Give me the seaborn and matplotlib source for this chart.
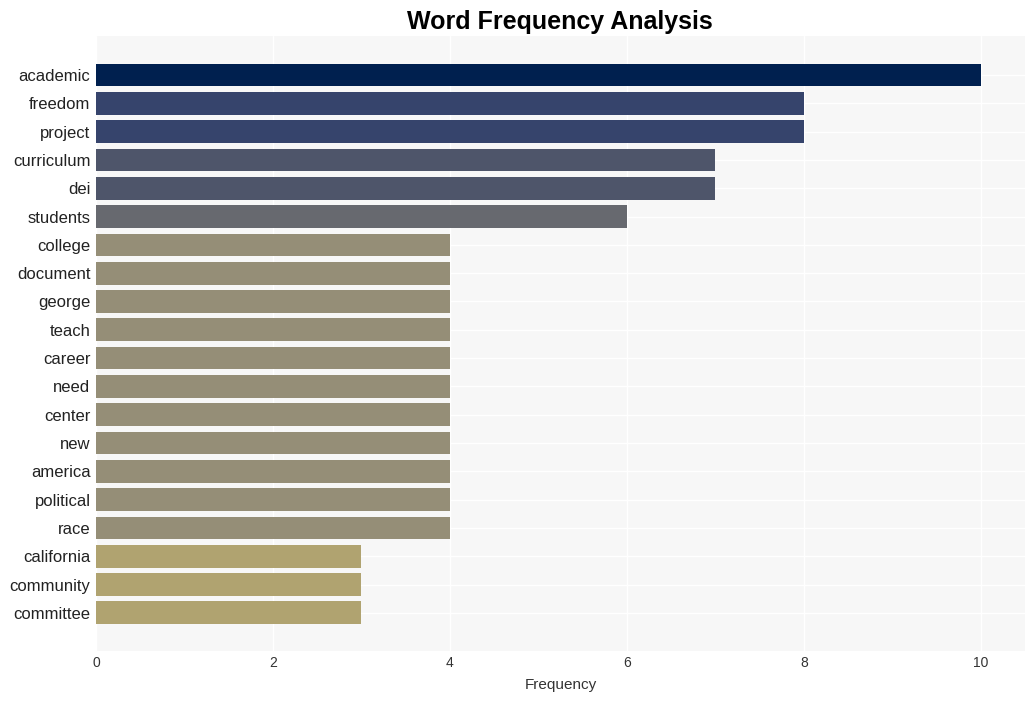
import pandas as pd
import matplotlib
matplotlib.use("Agg")
import matplotlib.pyplot as plt
import seaborn as sns

# word counts
words = ["academic", "freedom", "project", "curriculum", "dei", "students",
         "college", "document", "george", "teach", "career", "need", "center",
         "new", "america", "political", "race", "california", "community",
         "committee"]
counts = [10, 8, 8, 7, 7, 6, 4, 4, 4, 4, 4, 4, 4, 4, 4, 4, 4, 3, 3, 3]

df = pd.DataFrame({"word": words, "count": counts})

# colour per count level
level_colors = {10: "#00204f", 8: "#36446c", 7: "#4e556a", 6: "#67696f",
                4: "#958e77", 3: "#b0a370"}
palette = [level_colors[c] for c in counts]

sns.set_style("whitegrid")
plt.rcParams["font.family"] = ["Liberation Sans", "DejaVu Sans"]

fig = plt.figure(figsize=(10.35, 7.01), dpi=100)
ax = fig.add_axes([0.0928, 0.0713, 0.8975, 0.8773])
ax.set_facecolor("#f7f7f7")

sns.barplot(data=df, x="count", y="word", hue="word", palette=palette,
            legend=False, width=0.8, saturation=1, linewidth=0, ax=ax)

ax.set_xlim(0, 10.5)
ax.set_ylim(20.35, -1.38)
ax.set_xticks([0, 2, 4, 6, 8, 10])
ax.grid(True, color="white", linewidth=1)
for s in ax.spines.values():
    s.set_visible(False)
ax.tick_params(axis="y", labelsize=12, pad=4, length=0, labelcolor="#222222")
ax.tick_params(axis="x", labelsize=10, length=0, labelcolor="#333333")
ax.set_ylabel("")
ax.set_xlabel("Frequency", fontsize=11, color="#333333", labelpad=6)
fig.text(0.541, 0.968, "Word Frequency Analysis", ha="center", va="center",
         fontsize=18, fontweight="bold", color="black")

fig.savefig("out.png", dpi=100, facecolor="white")
